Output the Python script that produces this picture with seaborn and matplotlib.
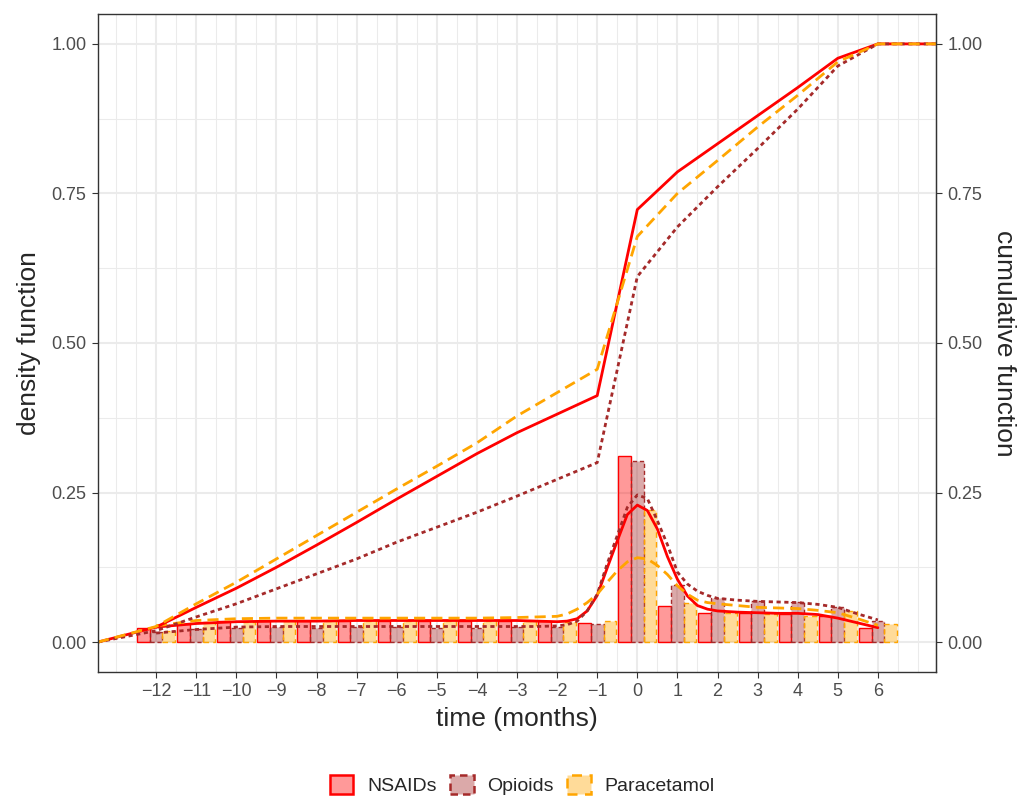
import numpy as np
import pandas as pd
import seaborn as sns
import matplotlib.pyplot as plt
from matplotlib.colors import to_rgba
from matplotlib.patches import Patch
from matplotlib.ticker import MultipleLocator

# data
drugs = ["NSAIDs", "Opioids", "Paracetamol"]
colors = {"NSAIDs": "red", "Opioids": "brown", "Paracetamol": "orange"}

months = list(range(-12, 7))

# share of prescriptions per month (bars)
nsaids_bar = [0.024, 0.031, 0.035, 0.036, 0.035, 0.036, 0.036, 0.035, 0.036, 0.036,
              0.035, 0.032, 0.311, 0.061, 0.048, 0.048, 0.047, 0.043, 0.024]
opioids_bar = [0.017, 0.022, 0.024, 0.025, 0.024, 0.025, 0.025, 0.024, 0.023, 0.025,
               0.025, 0.030, 0.303, 0.095, 0.073, 0.068, 0.067, 0.059, 0.036]
paracetamol_bar = [0.019, 0.033, 0.034, 0.035, 0.035, 0.035, 0.035, 0.035, 0.036, 0.036,
                   0.034, 0.035, 0.221, 0.066, 0.048, 0.047, 0.043, 0.052, 0.031]

# cumulative function at each month
nsaids_cum = [0.025, 0.058, 0.090, 0.125, 0.162, 0.200, 0.239, 0.277, 0.315, 0.350,
              0.381, 0.412, 0.723, 0.786, 0.833, 0.880, 0.927, 0.976, 1.0]
opioids_cum = [0.019, 0.042, 0.064, 0.089, 0.114, 0.139, 0.167, 0.192, 0.217, 0.244,
               0.272, 0.300, 0.611, 0.694, 0.761, 0.825, 0.891, 0.963, 1.0]
paracetamol_cum = [0.026, 0.064, 0.100, 0.139, 0.178, 0.217, 0.256, 0.294, 0.333, 0.378,
                   0.417, 0.456, 0.678, 0.750, 0.805, 0.861, 0.914, 0.970, 1.0]

# smoothed density curves
dens_x = [-12, -11, -10, -9, -8, -7, -6, -5, -4, -3, -2.5, -2, -1.75, -1.5, -1.25, -1,
          -0.75, -0.5, -0.25, 0, 0.25, 0.5, 0.75, 1, 1.25, 1.5, 1.75, 2, 2.5, 3, 3.5,
          4, 4.5, 5, 5.5, 6]
nsaids_dens = [0.025, 0.031, 0.034, 0.035, 0.035, 0.036, 0.036, 0.036, 0.036, 0.036,
               0.035, 0.034, 0.035, 0.039, 0.052, 0.078, 0.124, 0.169, 0.213, 0.229,
               0.220, 0.189, 0.143, 0.105, 0.077, 0.061, 0.055, 0.052, 0.050, 0.049,
               0.048, 0.048, 0.046, 0.040, 0.032, 0.024]
opioids_dens = [0.015, 0.021, 0.025, 0.026, 0.026, 0.026, 0.026, 0.026, 0.026, 0.026,
                0.026, 0.027, 0.029, 0.035, 0.052, 0.080, 0.131, 0.178, 0.225, 0.246,
                0.240, 0.203, 0.163, 0.117, 0.097, 0.085, 0.078, 0.073, 0.070, 0.068,
                0.067, 0.066, 0.063, 0.058, 0.047, 0.037]
paracetamol_dens = [0.027, 0.036, 0.039, 0.040, 0.040, 0.040, 0.040, 0.040, 0.040, 0.041,
                    0.042, 0.043, 0.047, 0.055, 0.066, 0.080, 0.100, 0.119, 0.134, 0.141,
                    0.139, 0.128, 0.113, 0.094, 0.080, 0.070, 0.066, 0.064, 0.061, 0.058,
                    0.057, 0.056, 0.053, 0.049, 0.039, 0.028]

X_MIN, X_MAX = -13.45, 7.45

bars = pd.DataFrame({
    "month": months * 3,
    "value": nsaids_bar + opioids_bar + paracetamol_bar,
    "drug": np.repeat(drugs, len(months)),
})
dens = pd.DataFrame({
    "time": dens_x * 3,
    "value": nsaids_dens + opioids_dens + paracetamol_dens,
    "drug": np.repeat(drugs, len(dens_x)),
})
cum_x = [X_MIN] + months + [X_MAX]
cum = pd.DataFrame({
    "time": cum_x * 3,
    "value": ([0] + nsaids_cum + [1]) + ([0] + opioids_cum + [1]) + ([0] + paracetamol_cum + [1]),
    "drug": np.repeat(drugs, len(cum_x)),
})

sns.set_style("white")
plt.rcParams["font.family"] = ["Liberation Sans", "DejaVu Sans"]

line_dashes = {"NSAIDs": "", "Opioids": (1.5, 1.3), "Paracetamol": (4, 2.2)}
edge_styles = {"NSAIDs": "-", "Opioids": (0, (3, 2)), "Paracetamol": (0, (4, 3))}

fig = plt.figure(figsize=(10.24, 7.99), dpi=100)
ax = fig.add_axes([0.0957, 0.159, 0.8184, 0.8235])

sns.barplot(data=bars, x="month", y="value", hue="drug", hue_order=drugs,
            palette=colors, native_scale=True, width=0.95, errorbar=None,
            legend=False, ax=ax)
for cont, drug in zip(ax.containers, drugs):
    for bar in cont:
        bar.set_facecolor(to_rgba(colors[drug], 0.4))
        bar.set_edgecolor(colors[drug])
        bar.set_linestyle(edge_styles[drug])
        bar.set_linewidth(1.0)

sns.lineplot(data=dens, x="time", y="value", hue="drug", style="drug",
             hue_order=drugs, palette=colors, dashes=line_dashes, linewidth=2.0,
             estimator=None, legend=False, ax=ax)
sns.lineplot(data=cum, x="time", y="value", hue="drug", style="drug",
             hue_order=drugs, palette=colors, dashes=line_dashes, linewidth=2.0,
             estimator=None, legend=False, ax=ax)

ax.set_xlim(X_MIN, X_MAX)
ax.set_ylim(-0.05, 1.05)
ax.set_xticks(months)
ax.set_xticklabels([str(m).replace("-", "\u2212") for m in months])
ax.xaxis.set_minor_locator(MultipleLocator(0.5))
ax.set_yticks([0, 0.25, 0.5, 0.75, 1.0])
ax.set_yticklabels(["0.00", "0.25", "0.50", "0.75", "1.00"])
ax.yaxis.set_minor_locator(MultipleLocator(0.125))

ax.set_axisbelow(True)
ax.grid(which="major", color="#EBEBEB", linewidth=1.45)
ax.grid(which="minor", color="#EBEBEB", linewidth=0.75)
for sp in ax.spines.values():
    sp.set_visible(True)
    sp.set_color("#333333")
    sp.set_linewidth(1.0)
ax.tick_params(which="major", direction="out", length=4.3, width=0.8, color="#333333",
               labelsize=13, labelcolor="#4D4D4D", pad=4, left=True, bottom=True)
ax.tick_params(which="minor", length=0)

ax.set_xlabel("time (months)", fontsize=19, labelpad=5)
ax.set_ylabel("density function", fontsize=19, labelpad=7)

sec = ax.secondary_yaxis("right")
sec.set_yticks([0, 0.25, 0.5, 0.75, 1.0])
sec.set_yticklabels(["0.00", "0.25", "0.50", "0.75", "1.00"])
sec.tick_params(direction="out", length=4.3, width=0.8, color="#333333",
                labelsize=13, labelcolor="#4D4D4D", pad=4)
sec.spines["right"].set_color("#333333")
sec.set_ylabel("cumulative function", fontsize=19, rotation=270, labelpad=24)

handles = [Patch(facecolor=to_rgba(colors[d], 0.4), edgecolor=colors[d],
                 linestyle=edge_styles[d], linewidth=1.8) for d in drugs]
fig.legend(handles, drugs, loc="lower center", bbox_to_anchor=(0.51, -0.017), ncol=3,
           frameon=False, fontsize=14, handlelength=1.2, handleheight=1.2,
           handletextpad=0.7, columnspacing=0.7)

fig.savefig("out.png", dpi=100)
